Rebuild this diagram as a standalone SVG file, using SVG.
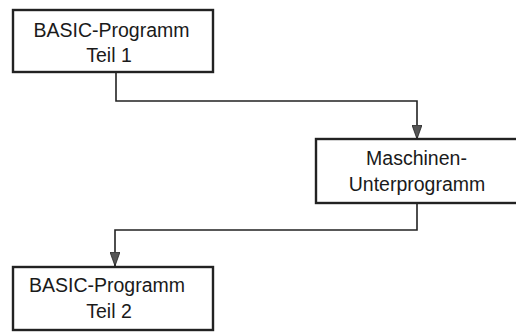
<svg xmlns="http://www.w3.org/2000/svg" width="516" height="332" viewBox="0 0 516 332">
<style>
.box{fill:#fff;stroke:#222;stroke-width:2.4}
.t{font-family:"Liberation Sans",Arial,sans-serif;font-size:19.5px;fill:#1a1a1a;text-anchor:middle}
.c{fill:none;stroke:#222;stroke-width:1.6}
</style>
<defs>
<marker id="ah" viewBox="0 0 14 10" refX="14" refY="5" markerWidth="14" markerHeight="10" markerUnits="userSpaceOnUse" orient="auto">
<path d="M0,0 L14,5 L0,10 Z" fill="#555" stroke="#222" stroke-width="0.8"/>
</marker>
</defs>
<rect width="516" height="332" fill="#fff"/>
<g id="connectors">
<path class="c" d="M116,72 V101 H417 V139" marker-end="url(#ah)" />
<path class="c" d="M417,203 V230 H115 V266" marker-end="url(#ah)" />
</g>
<g id="node1">
<rect class="box" x="13" y="10" width="200" height="62"/>
<text class="t" x="111.5" y="37">BASIC-Programm</text>
<text class="t" x="109" y="62">Teil 1</text>
</g>
<g id="node2">
<rect class="box" x="316" y="139" width="210" height="64"/>
<text class="t" x="416.5" y="165">Maschinen-</text>
<text class="t" x="417" y="191">Unterprogramm</text>
</g>
<g id="node3">
<rect class="box" x="13" y="267" width="200" height="63"/>
<text class="t" x="107" y="292">BASIC-Programm</text>
<text class="t" x="109" y="318">Teil 2</text>
</g>
</svg>
